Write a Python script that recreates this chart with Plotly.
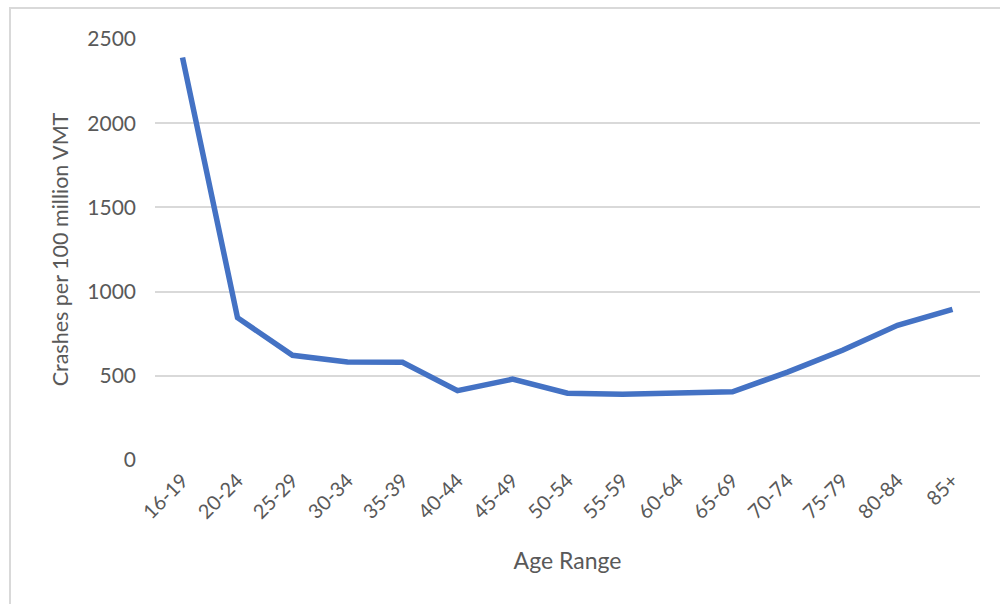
import plotly.graph_objects as go

# Crash rate by driver age group
age_ranges = ["16-19", "20-24", "25-29", "30-34", "35-39", "40-44", "45-49",
              "50-54", "55-59", "60-64", "65-69", "70-74", "75-79", "80-84", "85+"]
crashes_per_100m_vmt = [2390, 845, 622, 582, 580, 412, 480,
                        397, 390, 394, 405, 522, 652, 800, 895]
y_ticks = [0, 500, 1000, 1500, 2000, 2500]

W, H = 1000, 604
L, R, T, B = 155, 20, 39, 144
pw, ph = W - L - R, H - T - B

def px_x(x):
    return (x - L) / pw

def px_y(y):
    return (H - B - y) / ph

FONT = "Lato, 'Open Sans', sans-serif"
TXT = "#595959"

fig = go.Figure()
fig.add_trace(go.Scatter(
    x=list(range(len(age_ranges))),
    y=crashes_per_100m_vmt,
    mode="lines",
    line=dict(color="#4472C4", width=5.5),
    hoverinfo="skip",
))

fig.update_layout(
    width=W, height=H,
    margin=dict(l=L, r=R, t=T, b=B),
    paper_bgcolor="white",
    plot_bgcolor="white",
    showlegend=False,
    font=dict(family=FONT, color=TXT, size=18),
    xaxis=dict(
        range=[-0.5, len(age_ranges) - 0.5],
        tickmode="array",
        tickvals=list(range(len(age_ranges))),
        ticktext=age_ranges,
        tickangle=-45,
        showgrid=False,
        zeroline=False,
        showline=False,
        ticks="",
        ticklabelstandoff=4,
        tickfont=dict(size=20, color=TXT),
        title=dict(text="Age Range", font=dict(size=23, color=TXT), standoff=30),
    ),
    yaxis=dict(
        range=[0, 2500],
        tickmode="array",
        tickvals=y_ticks,
        showgrid=True,
        gridcolor="#D9D9D9",
        gridwidth=1.5,
        zeroline=False,
        showline=False,
        ticks="",
        ticklabelstandoff=18,
        tickfont=dict(size=21, color=TXT),
        title=dict(text="Crashes per 100 million VMT", font=dict(size=21.5, color=TXT), standoff=12),
    ),
    shapes=[
        dict(type="rect", xref="paper", yref="paper",
             x0=px_x(10), x1=px_x(W + 20), y0=px_y(H + 20), y1=px_y(8),
             line=dict(color="#D9D9D9", width=2), fillcolor="rgba(0,0,0,0)",
             layer="below"),
    ],
)

fig.write_html("out.html")
